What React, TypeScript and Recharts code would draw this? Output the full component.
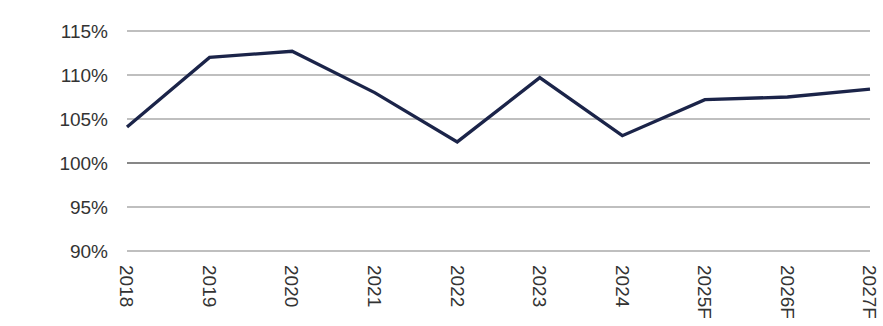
import { LineChart, Line, XAxis, YAxis, CartesianGrid, ReferenceLine } from 'recharts';

// years along the x axis
const years = ['2018', '2019', '2020', '2021', '2022', '2023', '2024', '2025F', '2026F', '2027F'];
// ratio in percent
const ratio = [104.1, 112.0, 112.7, 108.0, 102.4, 109.7, 103.1, 107.2, 107.5, 108.4];
const yTicks = [90, 95, 100, 105, 110, 115];

const data = years.map((year, i) => ({ year, ratio: ratio[i] }));

const font = '"Liberation Sans", Arial, sans-serif';

const YearTick = (props: any) => {
  const { x, y, payload } = props;
  return (
    <text
      x={x}
      y={y}
      transform={`rotate(90, ${x}, ${y})`}
      textAnchor="start"
      dy="0.35em"
      fill="#333"
      fontSize={19}
      fontFamily={font}
    >
      {payload.value}
    </text>
  );
};

export default function App() {
  return (
    <div style={{ position: 'absolute', left: 0, top: 0 }}>
      <LineChart
        width={883}
        height={326}
        data={data}
        margin={{ top: 31, right: 13, bottom: 5, left: 0 }}
      >
        <CartesianGrid vertical={false} stroke="#bfbfbf" strokeWidth={2} />
        <XAxis
          dataKey="year"
          axisLine={false}
          tickLine={false}
          tickSize={0}
          tick={<YearTick />}
          tickMargin={14}
          height={70}
          interval={0}
        />
        <YAxis
          domain={[90, 115]}
          ticks={yTicks}
          tickFormatter={(v: number) => `${v}%`}
          axisLine={false}
          tickLine={false}
          tickSize={0}
          tickMargin={19}
          width={127}
          tick={{ fill: '#333', fontSize: 19, fontFamily: font }}
        />
        <ReferenceLine y={100} stroke="#878787" strokeWidth={2} />
        <Line
          type="linear"
          dataKey="ratio"
          stroke="#1b2449"
          strokeWidth={3.3}
          dot={false}
          isAnimationActive={false}
        />
      </LineChart>
    </div>
  );
}
